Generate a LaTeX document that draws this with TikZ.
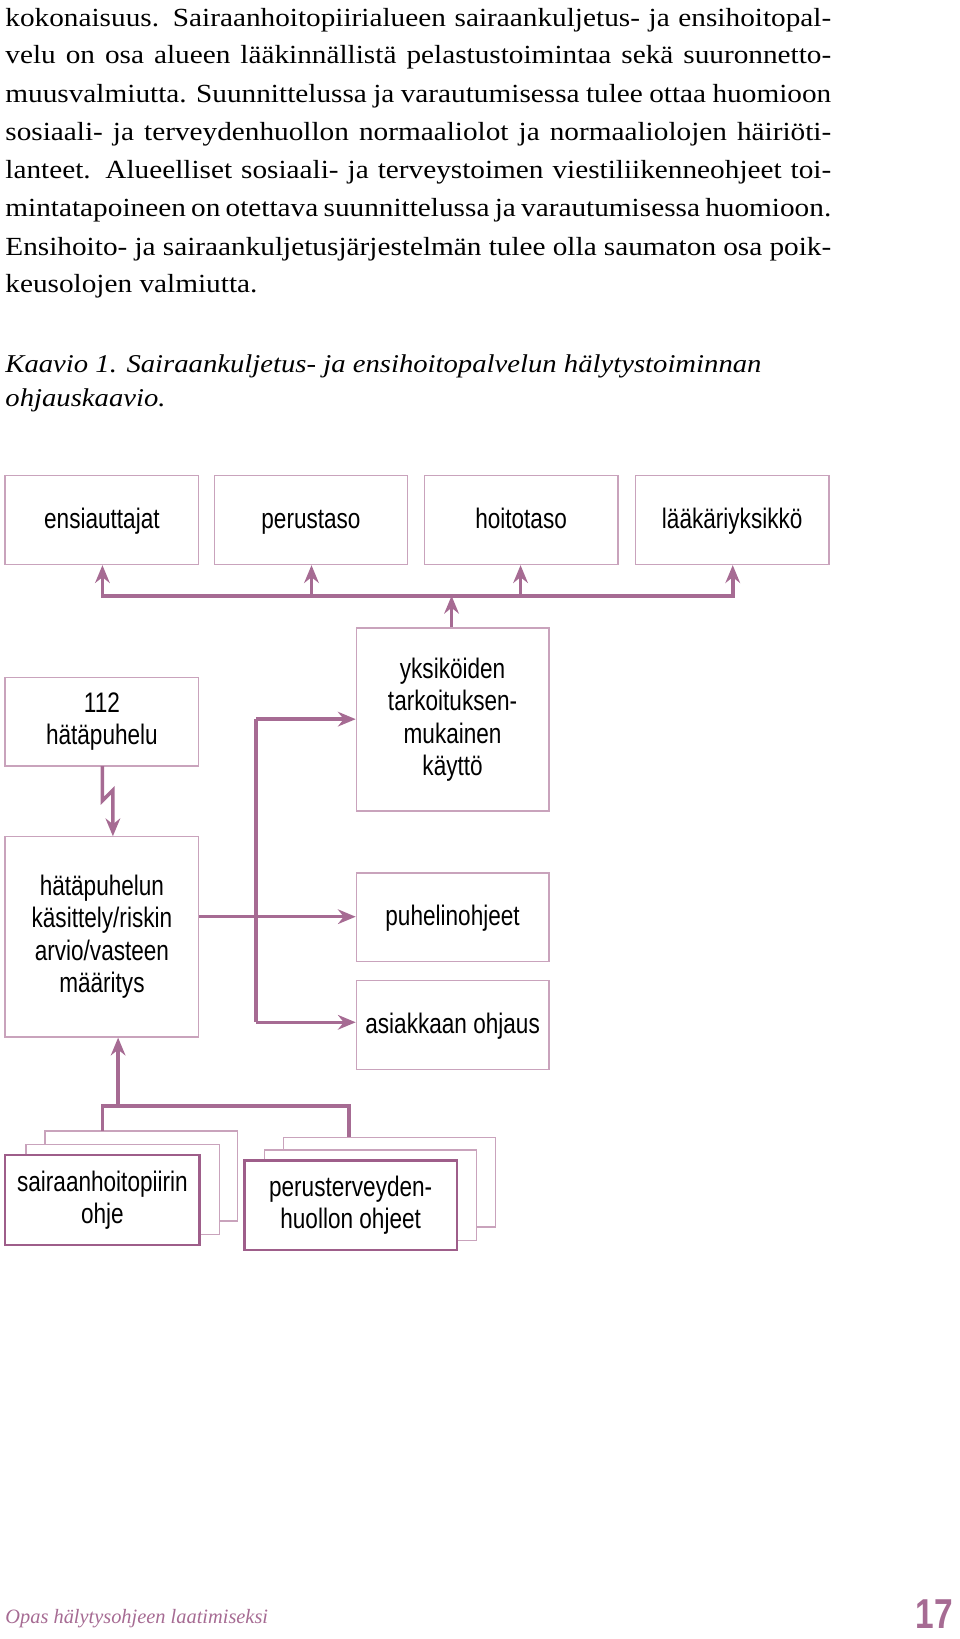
\documentclass[tikz,border=0pt]{standalone}
\usepackage{fontspec}
\setmainfont[FakeStretch=1.12]{Liberation Serif}
\newfontfamily\lab[FakeStretch=0.8]{Liberation Sans}
\newfontfamily\foot{Liberation Serif}
\usetikzlibrary{arrows.meta}
\definecolor{boxc}{HTML}{C9A3BC}
\definecolor{arrc}{HTML}{A66B93}
\definecolor{frontc}{HTML}{9E5E8A}
\tikzset{
  bx/.style={draw=boxc,line width=1.4pt,fill=white,align=center,font=\lab\fontsize{27}{31}\selectfont,inner sep=0pt},
  con/.style={draw=arrc,line width=3.4pt},
  arr/.style={con,-{Stealth[length=17pt,width=14pt]}},
  ln/.style={anchor=base west,inner sep=0pt,font=\fontsize{25}{29}\selectfont},
}
\newcommand{\jl}[1]{\makebox[790pt][s]{#1}}
\begin{document}
\begin{tikzpicture}[x=1pt,y=-1pt]
\useasboundingbox (0,0) rectangle (918,1568);
% paragraph
\node[ln] (l1) at (5,25) {\jl{kokonaisuus. Sairaanhoitopiirialueen sairaankuljetus- ja ensihoitopal-}};
\node[ln] (l2) at (5,61) {\jl{velu on osa alueen lääkinnällistä pelastustoimintaa sekä suuronnetto-}};
\node[ln] (l3) at (5,98) {\jl{muusvalmiutta. Suunnittelussa ja varautumisessa tulee ottaa huomioon}};
\node[ln] (l4) at (5,134) {\jl{sosiaali- ja terveydenhuollon normaaliolot ja normaaliolojen häiriöti-}};
\node[ln] (l5) at (5,171) {\jl{lanteet. Alueelliset sosiaali- ja terveystoimen viestiliikenneohjeet toi-}};
\node[ln] (l6) at (5,207) {\jl{mintatapoineen on otettava suunnittelussa ja varautumisessa huomioon.}};
\node[ln] (l7) at (5,244) {\jl{Ensihoito- ja sairaankuljetusjärjestelmän tulee olla saumaton osa poik-}};
\node[ln] (l8) at (5,280) {keusolojen valmiutta.};
\node[ln,font=\itshape\fontsize{24.5}{29}\selectfont] (c1) at (5,356) {Kaavio 1. Sairaankuljetus- ja ensihoitopalvelun hälytystoiminnan};
\node[ln,font=\itshape\fontsize{24.5}{29}\selectfont] (c2) at (5,389) {ohjauskaavio.};
% top boxes
\tikzset{tb/.style={bx,minimum width=185pt,minimum height=85pt,text height=20pt,text depth=4pt}}
\node[tb] (t1) at (97.5,497.5) {ensiauttajat};
\node[tb] (t2) at (297.5,497.5) {perustaso};
\node[tb] (t3) at (498.5,497.5) {hoitotaso};
\node[tb] (t4) at (700.5,497.5) {lääkäriyksikkö};
\coordinate (b1) at (98,570); \coordinate (b4) at (701,570);
\coordinate (b2) at (298,570); \coordinate (b3) at (498,570); \coordinate (bm) at (432,570);
\draw[con] (b1 |- 0,571.7) -- (b1) -- (b4) -- (b4 |- 0,571.7);
\draw[arr] (b1) -- (b1 |- t1.south);
\draw[arr] (b2) -- (b2 |- t2.south);
\draw[arr] (b3) -- (b3 |- t3.south);
\draw[arr] (b4) -- (b4 |- t4.south);
% middle
\node[bx,minimum width=184pt,minimum height=175pt] (yk) at (433,688.5) {yksiköiden\\tarkoituksen-\\mukainen\\käyttö};
\draw[arr] (yk.north -| bm) -- (bm);
\node[bx,minimum width=185pt,minimum height=85pt] (h112) at (97.5,690.5) {112\\hätäpuhelu};
\node[bx,minimum width=185pt,minimum height=192pt] (hk) at (97.5,896) {hätäpuhelun\\käsittely/riskin\\arvio/vasteen\\määritys};
\draw[arr] (98,733) -- (98,766) -- (108,756) -- (108,800);
\node[bx,minimum width=184pt,minimum height=85pt,text height=20pt,text depth=4pt] (po) at (433,877.5) {puhelinohjeet};
\node[bx,minimum width=184pt,minimum height=85pt,text height=20pt,text depth=4pt] (ao) at (433,980.5) {asiakkaan ohjaus};
\coordinate (v1) at (245,688); \coordinate (v2) at (245,877); \coordinate (v3) at (245,978);
\draw[con] (hk.east |- v2) -- (v2);
\draw[con] (v1) -- (v3);
\draw[arr] (v1) -- (v1 -| yk.west);
\draw[arr] (v2) -- (v2 -| po.west);
\draw[arr] (v3) -- (v3 -| ao.west);
% bottom stacks
\draw[draw=boxc,line width=1.4pt,fill=white] (43,1082) rectangle (227,1168);
\draw[draw=boxc,line width=1.4pt,fill=white] (25,1095) rectangle (210,1181);
\node[bx,draw=frontc,line width=2.4pt,minimum width=186pt,minimum height=86pt] (sh) at (98,1148) {sairaanhoitopiirin\\ohje};
\draw[draw=boxc,line width=1.4pt,fill=white] (271,1088) rectangle (474,1174);
\draw[draw=boxc,line width=1.4pt,fill=white] (253,1100) rectangle (456,1187);
\node[bx,draw=frontc,line width=2.4pt,minimum width=203pt,minimum height=86pt] (pt) at (335.5,1153) {perusterveyden-\\huollon ohjeet};
\coordinate (u1) at (98,1058); \coordinate (u2) at (334,1058); \coordinate (um) at (113,1058);
\draw[con] (98,1082) -- (u1) -- (u2) -- (334,1088);
\draw[arr] (um) -- (um |- hk.south);
% footer
\node[anchor=base west,inner sep=0pt,text=arrc,font=\foot\itshape\fontsize{19.5}{23}\selectfont] (ft) at (5,1553) {Opas hälytysohjeen laatimiseksi};
\node[anchor=base east,inner sep=0pt,text=arrc,font=\lab\bfseries\fontsize{40}{44}\selectfont] (pg) at (912,1558) {17};
\end{tikzpicture}
\end{document}
